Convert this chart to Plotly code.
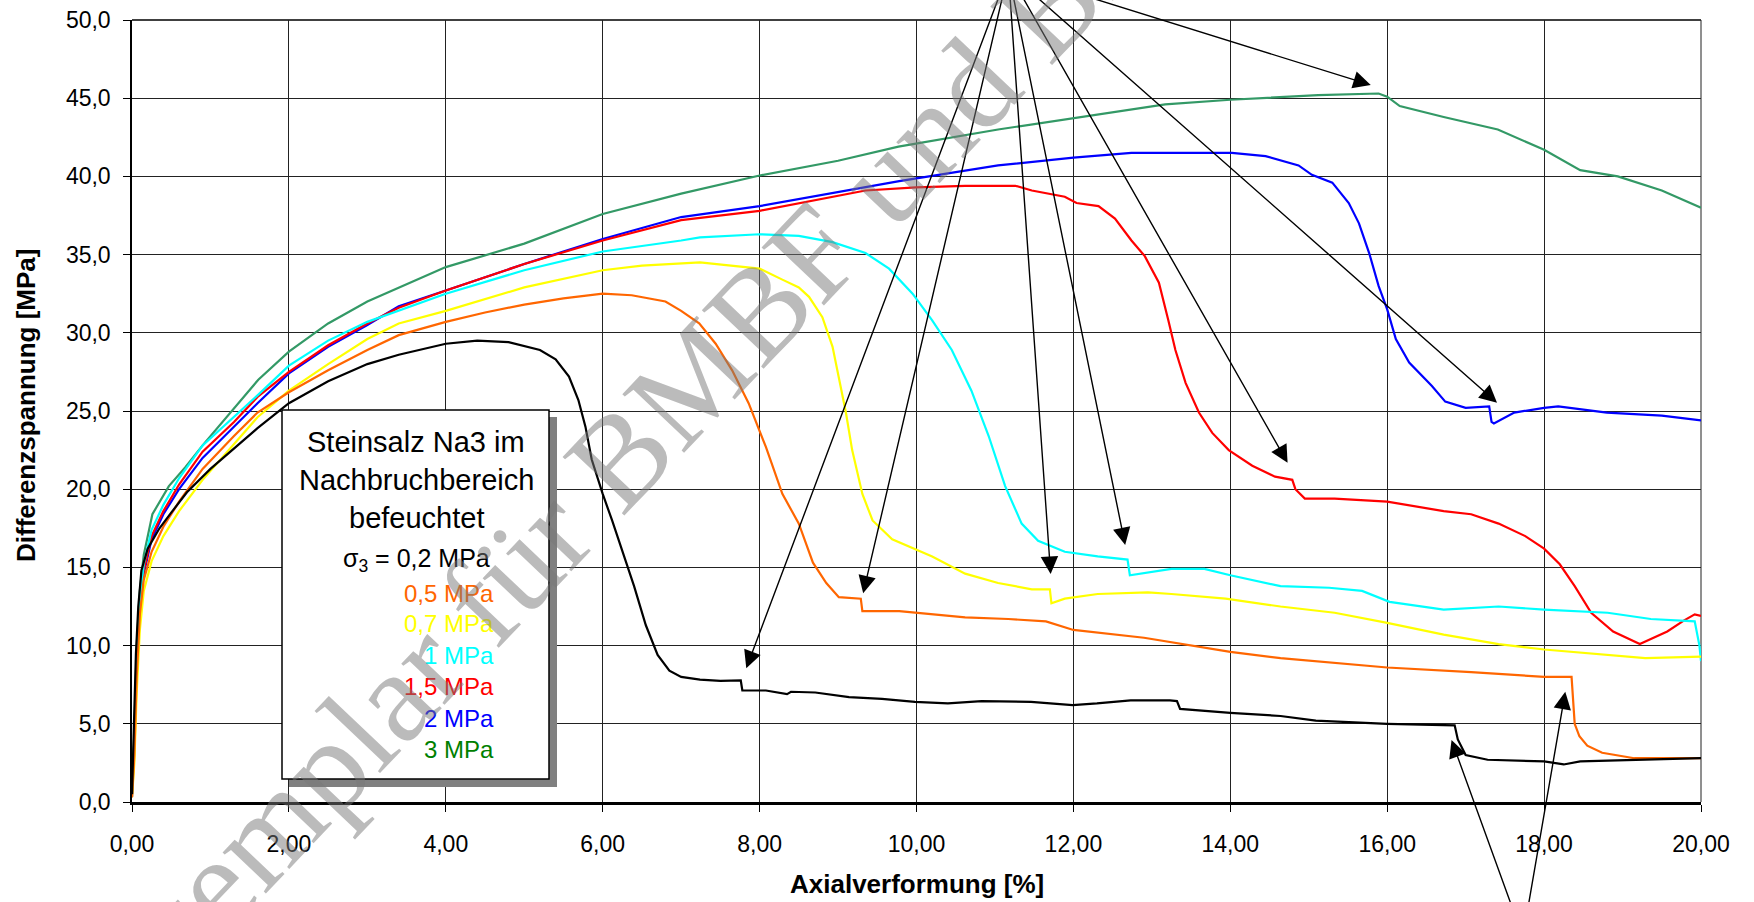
import plotly.graph_objects as go

# ---------------- data ----------------
strain_02 = [0, 0.02, 0.05, 0.08, 0.12, 0.2, 0.35, 0.5, 0.7, 1.0, 1.3, 1.6, 2.0, 2.5, 3.0, 3.4, 4.0, 4.4, 4.8,
             5.2, 5.4, 5.57, 5.69, 5.78, 5.86, 6.0, 6.12, 6.25, 6.4, 6.55, 6.7, 6.85, 7.0, 7.24, 7.5, 7.76,
             7.78, 8.08, 8.35, 8.4, 8.71, 9.14, 9.56, 9.98, 10.4, 10.83, 11.46, 11.99, 12.3, 12.73, 13.23,
             13.32, 13.36, 14.0, 14.64, 15.09, 16.0, 16.86, 16.9, 17.0, 17.28, 18.0, 18.25, 18.46, 19.15, 20.0]
stress_02 = [0.5, 4, 9.5, 12.5, 14.8, 16.2, 17.5, 18.5, 19.8, 21.3, 22.6, 23.9, 25.5, 26.9, 28.0, 28.6, 29.3,
             29.5, 29.4, 28.9, 28.3, 27.2, 25.7, 24.0, 21.9, 19.7, 18.0, 16.1, 13.8, 11.3, 9.4, 8.4, 8.0, 7.83,
             7.75, 7.77, 7.13, 7.13, 6.9, 7.05, 7.0, 6.7, 6.6, 6.4, 6.3, 6.45, 6.4, 6.2, 6.3, 6.5, 6.5, 6.45,
             5.95, 5.7, 5.5, 5.2, 5.0, 4.9, 4.0, 3.0, 2.7, 2.6, 2.4, 2.6, 2.7, 2.8]

strain_05 = [0, 0.03, 0.06, 0.1, 0.15, 0.25, 0.4, 0.6, 0.9, 1.3, 1.6, 2.0, 2.5, 3.0, 3.4, 4.0, 4.5, 5.0, 5.5,
             6.0, 6.37, 6.8, 7.0, 7.23, 7.44, 7.65, 7.86, 8.08, 8.29, 8.5, 8.68, 8.85, 9.01, 9.29, 9.31, 9.78,
             10.62, 11.17, 11.65, 12.0, 12.9, 13.39, 14.0, 14.64, 15.33, 16.0, 17.07, 18.0, 18.35, 18.39,
             18.45, 18.55, 18.74, 19.15, 20.0]
stress_05 = [0.3, 3, 8, 12, 14.2, 16.0, 17.6, 19.2, 21.3, 23.4, 24.9, 26.2, 27.6, 28.9, 29.85, 30.7, 31.3,
             31.8, 32.2, 32.5, 32.4, 32.0, 31.4, 30.6, 29.3, 27.6, 25.5, 22.7, 19.7, 17.8, 15.3, 14.0, 13.1,
             13.0, 12.2, 12.2, 11.8, 11.7, 11.55, 11.0, 10.5, 10.1, 9.6, 9.2, 8.9, 8.6, 8.3, 8.0, 8.0, 5.0,
             4.2, 3.6, 3.15, 2.8, 2.8]

strain_07 = [0, 0.03, 0.06, 0.1, 0.15, 0.25, 0.4, 0.6, 0.9, 1.3, 1.6, 2.0, 2.5, 3.0, 3.4, 4.0, 5.0, 6.0, 6.5,
             7.24, 7.65, 8.0, 8.29, 8.5, 8.63, 8.8, 8.93, 9.01, 9.1, 9.18, 9.31, 9.44, 9.69, 10.2, 10.62,
             11.04, 11.47, 11.7, 11.72, 11.89, 12.31, 12.95, 13.25, 13.94, 14.64, 15.33, 16.0, 16.72, 17.42,
             18.0, 18.81, 19.29, 20.0]
stress_07 = [0.3, 2.5, 7, 11, 13.5, 15.4, 17.0, 18.6, 20.6, 22.9, 24.6, 26.3, 28.0, 29.6, 30.6, 31.4, 32.9,
             34.0, 34.3, 34.5, 34.3, 34.1, 33.4, 32.9, 32.3, 31.0, 29.1, 27.2, 24.9, 22.5, 19.7, 18.0, 16.8,
             15.7, 14.6, 14.0, 13.6, 13.6, 12.7, 13.0, 13.3, 13.4, 13.3, 13.0, 12.5, 12.1, 11.45, 10.7, 10.1,
             9.75, 9.4, 9.2, 9.3]

strain_1 = [0, 0.03, 0.06, 0.1, 0.15, 0.25, 0.4, 0.6, 0.9, 1.3, 1.6, 2.0, 2.5, 3.0, 3.4, 4.0, 5.0, 6.0, 7.0,
            7.24, 8.0, 8.5, 8.93, 9.35, 9.65, 9.95, 10.2, 10.45, 10.7, 10.92, 11.13, 11.34, 11.55, 11.89,
            12.31, 12.69, 12.72, 13.25, 13.67, 14.0, 14.64, 15.26, 15.68, 16.03, 16.72, 17.42, 18.0, 18.46,
            18.81, 19.36, 19.92, 19.98, 20.0]
stress_1 = [0.5, 4, 9.5, 13, 15.2, 17.4, 19.0, 20.7, 22.8, 24.6, 26.0, 27.9, 29.5, 30.7, 31.4, 32.5, 34.0,
            35.2, 35.9, 36.1, 36.3, 36.2, 35.8, 35.1, 34.1, 32.5, 30.8, 28.9, 26.3, 23.4, 20.2, 17.8, 16.7,
            16.0, 15.7, 15.5, 14.5, 14.9, 14.9, 14.5, 13.8, 13.7, 13.5, 12.8, 12.3, 12.5, 12.3, 12.2, 12.1,
            11.7, 11.55, 10.0, 9.0]

strain_15 = [0, 0.03, 0.06, 0.1, 0.15, 0.25, 0.4, 0.6, 0.9, 1.3, 1.6, 2.0, 2.5, 3.0, 3.4, 4.0, 5.0, 6.0, 7.0,
             8.0, 9.35, 9.99, 10.62, 11.26, 11.47, 11.89, 12.04, 12.32, 12.53, 12.74, 12.91, 13.09, 13.21,
             13.3, 13.43, 13.6, 13.77, 13.98, 14.28, 14.57, 14.79, 14.83, 14.95, 15.33, 16.0, 16.72, 17.07,
             17.42, 17.76, 18.0, 18.2, 18.39, 18.6, 18.88, 19.22, 19.36, 19.57, 19.78, 19.92, 20.0]
stress_15 = [0.5, 4, 9, 12.5, 14.8, 17.0, 18.6, 20.3, 22.4, 24.3, 25.9, 27.5, 29.2, 30.6, 31.6, 32.7, 34.4,
             35.9, 37.2, 37.8, 39.1, 39.3, 39.4, 39.4, 39.1, 38.7, 38.3, 38.1, 37.3, 35.9, 34.9, 33.2, 30.8,
             28.9, 26.8, 24.9, 23.6, 22.5, 21.5, 20.8, 20.6, 20.0, 19.4, 19.4, 19.2, 18.6, 18.4, 17.8, 17.0,
             16.2, 15.2, 13.8, 12.1, 10.9, 10.1, 10.4, 10.9, 11.6, 12.0, 11.9]

strain_2 = [0, 0.03, 0.06, 0.1, 0.15, 0.25, 0.4, 0.6, 0.9, 1.3, 1.6, 2.0, 2.5, 3.0, 3.4, 4.0, 5.0, 6.0, 7.0,
            8.0, 9.78, 11.04, 12.0, 12.74, 13.38, 14.02, 14.45, 14.87, 15.04, 15.3, 15.51, 15.64, 15.77,
            15.89, 16.0, 16.11, 16.28, 16.57, 16.74, 17.0, 17.3, 17.33, 17.36, 17.62, 18.0, 18.18, 18.8,
            19.5, 20.0]
stress_2 = [0.3, 4, 9, 12.5, 14.6, 16.8, 18.4, 20.0, 22.0, 24.0, 25.5, 27.4, 29.1, 30.5, 31.7, 32.7, 34.4,
            36.0, 37.4, 38.1, 39.7, 40.7, 41.2, 41.5, 41.5, 41.5, 41.3, 40.7, 40.1, 39.6, 38.3, 37.0, 35.1,
            33.0, 31.5, 29.6, 28.1, 26.6, 25.6, 25.2, 25.3, 24.3, 24.2, 24.9, 25.2, 25.3, 24.9, 24.7, 24.4]

strain_3 = [0, 0.03, 0.06, 0.1, 0.15, 0.26, 0.47, 0.68, 0.9, 1.26, 1.61, 2.0, 2.5, 3.0, 3.4, 4.0, 5.0, 6.0,
            7.0, 8.0, 9.0, 9.77, 11.04, 12.0, 13.17, 14.0, 15.12, 15.89, 16.0, 16.16, 16.72, 17.41, 18.0,
            18.46, 18.94, 19.5, 20.0]
stress_3 = [0.5, 4.5, 10, 13.5, 15.8, 18.4, 20.2, 21.4, 22.8, 24.9, 27.0, 28.8, 30.6, 32.0, 32.9, 34.2, 35.7,
            37.6, 38.9, 40.06, 41.0, 41.9, 43.0, 43.7, 44.6, 44.9, 45.2, 45.3, 45.1, 44.5, 43.8, 43.0, 41.7,
            40.4, 40.0, 39.1, 38.0]

series_names = ["0,2 MPa", "0,5 MPa", "0,7 MPa", "1 MPa", "1,5 MPa", "2 MPa", "3 MPa"]
x_ticks = [0, 2, 4, 6, 8, 10, 12, 14, 16, 18, 20]
y_ticks = [0, 5, 10, 15, 20, 25, 30, 35, 40, 45, 50]

# arrow tips (points on the curves) and the common arrow origins
arrow_tips_top = [(7.83, 8.55), (9.32, 13.34), (11.71, 14.58), (12.66, 16.43),
                  (14.73, 21.69), (17.40, 25.53), (15.79, 45.84)]
arrow_origin_top = (11.17, 53.07)
arrow_tips_bottom = [(16.82, 3.96), (18.27, 7.05)]
arrow_origin_bottom = (17.73, -8.63)

# ---------------- styling ----------------
colors = ["#000000", "#FF6600", "#FFFF00", "#00FFFF", "#FF0000", "#0000FF", "#339966"]
label_colors = ["#000000", "#FF6600", "#FFFF00", "#00FFFF", "#FF0000", "#0000FF", "#008000"]
FONT = "Liberation Sans, Arial, sans-serif"

xs = [strain_02, strain_05, strain_07, strain_1, strain_15, strain_2, strain_3]
ys = [stress_02, stress_05, stress_07, stress_1, stress_15, stress_2, stress_3]

fig = go.Figure()
for i in reversed(range(7)):
    fig.add_trace(go.Scatter(x=xs[i], y=ys[i], mode="lines", name=series_names[i],
                             line=dict(color=colors[i], width=2.2), showlegend=False,
                             hoverinfo="skip"))

W, H = 1754, 902
L, R, T, B = 132, 53, 20, 100
PW, PH = W - L - R, H - T - B


def px(fx):
    return (fx - L) / PW


def py(fy):
    return (T + PH - fy) / PH


annotations = []
# arrows
arrow_style = dict(text="", showarrow=True, arrowhead=2, arrowsize=2.5, arrowwidth=1.4,
                   arrowcolor="black", standoff=0, xref="x", yref="y", axref="x", ayref="y")
for (tx, ty) in arrow_tips_top:
    annotations.append(dict(x=tx, y=ty, ax=arrow_origin_top[0], ay=arrow_origin_top[1], **arrow_style))
for (tx, ty) in arrow_tips_bottom:
    annotations.append(dict(x=tx, y=ty, ax=arrow_origin_bottom[0], ay=arrow_origin_bottom[1], **arrow_style))

# text box contents
title_lines = ["Steinsalz Na3 im", "Nachbruchbereich", "befeuchtet"]
title_y = [441.7, 480, 518.3]
for t, yy in zip(title_lines, title_y):
    annotations.append(dict(x=px(416), y=py(yy), xref="paper", yref="paper", text=t, showarrow=False,
                            xanchor="center", yanchor="middle", font=dict(family=FONT, size=29, color="black")))
annotations.append(dict(x=px(416), y=py(560), xref="paper", yref="paper",
                        text="σ<sub>3</sub> = " + series_names[0], showarrow=False,
                        xanchor="center", yanchor="middle", font=dict(family=FONT, size=25, color="black")))
col_y = [593.3, 623.3, 655, 686.7, 718.3, 749.3]
for i, yy in enumerate(col_y):
    annotations.append(dict(x=px(496), y=py(yy), xref="paper", yref="paper", text=series_names[i + 1],
                            showarrow=False, xanchor="right", yanchor="middle",
                            font=dict(family=FONT, size=24, color=label_colors[i + 1])))

# axis titles
annotations.append(dict(x=0.5, y=py(884), xref="paper", yref="paper", text="<b>Axialverformung [%]</b>",
                        showarrow=False, xanchor="center", yanchor="middle",
                        font=dict(family=FONT, size=26, color="black")))
annotations.append(dict(x=px(26), y=py(406), xref="paper", yref="paper", text="<b>Differenzspannung [MPa]</b>",
                        showarrow=False, xanchor="center", yanchor="middle", textangle=-90,
                        font=dict(family=FONT, size=26, color="black")))

# watermark
annotations.append(dict(x=px(625), y=py(451), xref="paper", yref="paper", text="Exemplar für BMBF und BfS",
                        showarrow=False, xanchor="center", yanchor="middle", textangle=-46.5,
                        font=dict(family="Liberation Serif, Times New Roman, serif", size=130,
                                  color="rgba(120,120,120,0.5)")))

shapes = [
    # shadow of the text box
    dict(type="rect", xref="paper", yref="paper", x0=px(289), x1=px(557), y0=py(787), y1=py(417),
         fillcolor="#808080", line=dict(width=0), layer="above"),
    # text box
    dict(type="rect", xref="paper", yref="paper", x0=px(282), x1=px(549), y0=py(779), y1=py(410),
         fillcolor="white", line=dict(color="black", width=1.5), layer="above"),
    # top and right border
    dict(type="line", xref="paper", yref="paper", x0=0, x1=1, y0=1, y1=1,
         line=dict(color="#404040", width=2), layer="below"),
    dict(type="line", xref="paper", yref="paper", x0=1, x1=1, y0=0, y1=1,
         line=dict(color="#202020", width=1), layer="below"),
]

fig.update_layout(
    width=W, height=H,
    margin=dict(l=L, r=R, t=T, b=B, autoexpand=False),
    paper_bgcolor="white", plot_bgcolor="white",
    separators=",.",
    font=dict(family=FONT, color="black"),
    annotations=annotations,
    shapes=shapes,
    xaxis=dict(range=[0, 20], tickvals=x_ticks, tickformat=".2f", showgrid=True, gridcolor="#222222",
               gridwidth=1, zeroline=False, showline=True, linecolor="black", linewidth=2.5,
               ticks="outside", ticklen=7, tickwidth=1.2, tickcolor="black", automargin=False,
               ticklabelstandoff=13,
               tickfont=dict(family=FONT, size=23, color="black")),
    yaxis=dict(range=[0, 50], tickvals=y_ticks, tickformat=".1f", showgrid=True, gridcolor="#222222",
               gridwidth=1, zeroline=False, showline=True, linecolor="black", linewidth=1.5,
               ticks="outside", ticklen=7, tickwidth=1.2, tickcolor="black", automargin=False,
               ticklabelstandoff=8,
               tickfont=dict(family=FONT, size=23, color="black")),
)

fig.write_html("out.html", config={"displayModeBar": False})

# remove the browser's default page margin so the figure sits at the top-left corner
with open("out.html", "r", encoding="utf-8") as f:
    html = f.read()
html = html.replace("<head>", "<head><style>html,body{margin:0;padding:0;overflow:hidden;}</style>", 1)
with open("out.html", "w", encoding="utf-8") as f:
    f.write(html)
